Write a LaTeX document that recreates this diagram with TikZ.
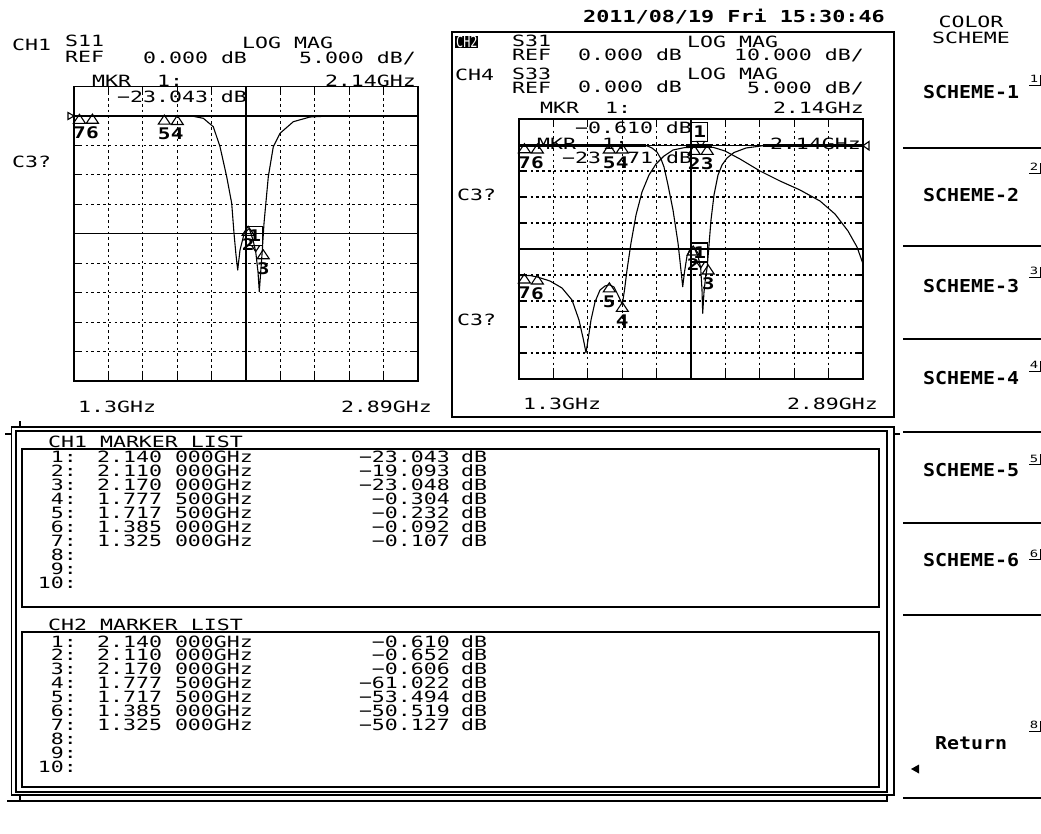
\documentclass[tikz,border=0pt]{standalone}
\usepackage{fontspec}
\usepackage{graphicx}
\newfontfamily\scrfamily[FakeStretch=1.39]{DejaVu Sans Mono}
\newfontfamily\scrbfamily[FakeStretch=1.32]{DejaVu Sans Mono Bold}
\newfontfamily\keyfamily[FakeStretch=1.12]{DejaVu Sans Mono Bold}
\newcommand{\scr}{\scrfamily\fontsize{15.5}{15.5}\selectfont}
\newcommand{\scrb}{\scrbfamily\fontsize{16.5}{16.5}\selectfont}
\newcommand{\keyf}{\keyfamily\fontsize{17.8}{17.8}\selectfont}
\newcommand{\supf}{\scrfamily\fontsize{10}{10}\selectfont}
\newcommand{\mkf}{\scrbfamily\fontsize{16}{16}\selectfont}

\tikzset{
	txt/.style={font=\scr, inner sep=0pt, anchor=base west},
	txtr/.style={font=\scr, inner sep=0pt, anchor=base east},
	txtc/.style={font=\scr, inner sep=0pt, anchor=base},
	keylbl/.style={font=\keyf, inner sep=0pt, anchor=base},
	border/.style={line width=1.5pt},
	gridln/.style={line width=1.1pt, dash pattern=on 2.6pt off 3.2pt},
	trc/.style={line width=1.1pt, line join=round},
	thk/.style={line width=2.6pt},
	mkline/.style={line width=1.1pt},
	mknum/.style={font=\mkf, inner sep=0pt, anchor=north},
	mkbox/.style={draw, line width=1.2pt, font=\mkf, minimum width=16pt, minimum height=19pt, inner sep=0pt},
}

% small marker: name, x, y, label
\newcommand{\smkr}[4]{
	\draw[mkline] (#2,#3-2) -- (#2-6,#3+7) -- (#2+6,#3+7) -- cycle;
	\node[mknum] (#1) at (#2,#3+10.5) {#4};
}
% active marker: name, x, y, label
\newcommand{\amkr}[4]{
	\draw[mkline] (#2,#3) -- (#2-4,#3-6) -- (#2+4,#3-6) -- cycle;
	\node[mkbox] (#1) at (#2-1,#3-15.5) {#4};
}

\begin{document}
\begin{tikzpicture}[x=1pt,y=-1pt]
	\useasboundingbox (0,0) rectangle (1041,833);
	
	\node[txt, font=\scrb] (date) at (583,22) {2011/08/19 Fri 15:30:46};
	
	% CH1 header
	\node[txt] (hch1) at (12,50) {CH1};
	\node[txt] (hs11) at (65,46) {S11};
	\node[txt] (href1) at (65,62) {REF};
	\node[txt] (hlog1) at (242,48) {LOG MAG};
	\node[txt] (hr1) at (143,63) {0.000 dB};
	\node[txtr] (hsc1) at (416,63) {5.000 dB/};
	\node[txt] (hmkr1) at (92,86) {MKR};
	\node[txt] (hmkn1) at (157,86) {1:};
	\node[txtr] (hmkf1) at (416,86) {2.14GHz};
	\node[txt] (hc31) at (12,167) {C3?};
	\node[txt] (hst1) at (78,412) {1.3GHz};
	\node[txtr] (hsp1) at (432,412) {2.89GHz};
	
	% CH1 grid
	\foreach \i in {1,...,9} {
		\draw[gridln] ({74+34.4*\i},86.5) -- ({74+34.4*\i},381);
		\draw[gridln] (74,{86.5+29.45*\i}) -- (418,{86.5+29.45*\i});
		\draw[trc] ({74+34.4*\i},86.5) -- ++(0,8) ({74+34.4*\i},381) -- ++(0,-8);
		\draw[trc] (74,{86.5+29.45*\i}) -- ++(8,0) (418,{86.5+29.45*\i}) -- ++(-8,0);
	}
	\draw[trc] (246,86.5) -- (246,381);
	\draw[trc] (74,233.75) -- (418,233.75);
	\draw[trc] (74,116) -- (418,116);
	\draw[border] (74,86.5) rectangle (418,381);
	\node[txt] (hmkv1) at (117,102) {−23.043 dB};
	
	\draw[trc] plot coordinates {(74,116) (191.7,116) (203.3,118.3) (213.3,126.7) (220,146.7) (226.7,176.7) (231.7,203.3) (234,233.3) (236,255) (237.7,270) (240,250) (244,234) (249.2,228.3) (253,240) (255.7,251.6) (258,272) (259.3,291.7) (260.7,272) (262.2,251.7) (264,223.3) (268.3,176.7) (273.3,146.7) (280,133.3) (293.3,121.7) (310,117) (330,116) (418,116)};
	\draw[thk] (125,116) -- (192,116) (310,116) -- (418,116);
	\draw[mkline] (68,112.5) -- (74,116) -- (68,119.5) -- cycle;
	
	\smkr{a7}{79.4}{116.3}{7}
	\smkr{a6}{92.4}{116.2}{6}
	\smkr{a5}{164.3}{117.1}{5}
	\smkr{a4}{177.3}{117.5}{4}
	\smkr{a2}{248.2}{228.3}{2}
	\smkr{a3}{263.2}{251.7}{3}
	\amkr{a1}{255.7}{251.6}{1}
	
	% CH2 / CH4 panel
	\draw[border] (452,32) rectangle (894,417);
	\fill (455,36) rectangle (478,48);
	\node[txt, text=white] (hch2) at (456,47) {\scalebox{0.55}[1]{CH2}};
	\node[txt] (hs31) at (512,46) {S31};
	\node[txt] (href2) at (512,60) {REF};
	\node[txt] (hlog2) at (687,47) {LOG MAG};
	\node[txt] (hr2) at (578,60) {0.000 dB};
	\node[txtr] (hsc2) at (864,60.5) {10.000 dB/};
	\node[txt] (hch4) at (455,80) {CH4};
	\node[txt] (hs33) at (512,79) {S33};
	\node[txt] (href4) at (512,93) {REF};
	\node[txt] (hlog4) at (687,79.5) {LOG MAG};
	\node[txt] (hr4) at (578,92.5) {0.000 dB};
	\node[txtr] (hsc4) at (864,93) {5.000 dB/};
	\node[txt] (hmkr2) at (540,113) {MKR};
	\node[txt] (hmkn2) at (605,113) {1:};
	\node[txtr] (hmkf2) at (864,113) {2.14GHz};
	\node[txt] (hc32) at (457,200) {C3?};
	\node[txt] (hc34) at (457,325) {C3?};
	\node[txt] (hst2) at (523,409) {1.3GHz};
	\node[txtr] (hsp2) at (878,409) {2.89GHz};
	
	\foreach \i in {1,...,9} {
		\draw[gridln] ({519+34.4*\i},119) -- ({519+34.4*\i},379);
		\draw[gridln] (519,{119+26*\i}) -- (863,{119+26*\i});
		\draw[trc] ({519+34.4*\i},119) -- ++(0,8) ({519+34.4*\i},379) -- ++(0,-8);
		\draw[trc] (519,{119+26*\i}) -- ++(8,0) (863,{119+26*\i}) -- ++(-8,0);
	}
	\draw[trc] (691,119) -- (691,379);
	\draw[trc] (519,249) -- (863,249);
	\draw[trc] (519,145.7) -- (863,145.7);
	\draw[border] (519,119) rectangle (863,379);
	\node[txt] (hmkv2) at (575,133) {−0.610 dB};
	\node[txt] (hmkr4) at (537,149) {MKR};
	\node[txt] (hmkn4) at (602,149) {1:};
	\node[txtr] (hmkf4) at (861,149) {2.14GHz};
	\node[txt] (hmkv4a) at (562,163) {−23};
	\node[txt] (hmkv4b) at (627,163) {71};
	\node[txt] (hmkv4c) at (666,163) {dB};
	
	% S31
	\draw[trc] plot coordinates {(519,275.7) (530,275.5) (537.4,277) (550,281) (562,288) (572,300) (579,320) (583.5,340) (586,352.7) (588,340) (591,320) (595,302) (600,290) (605,286) (609.3,284.8) (614,287) (618,295) (622.3,304.4) (624.5,290) (627,270) (631,243) (636,215) (642,192) (649,175) (656,164) (664,156) (673,150) (685,147.5) (700,147.3) (713,147.3) (725,151) (740,159) (760,171) (780,181) (800,190) (820,201) (835,214) (848,231) (857,247) (862.7,263)};
	% S33
	\draw[trc] plot coordinates {(519,145.7) (646.7,145.7) (652,148) (657,152) (661,159) (664,167) (668,185) (673,210) (678,243) (681.5,275) (682.7,286.7) (684.5,272) (687,256) (690,249) (694.2,248) (698,256) (700.7,268) (702,290) (702.7,313.3) (704,292) (705.5,278) (707.2,267) (709,245) (711,220) (714,195) (718,175) (722,165) (727,158) (734,152.5) (746,148) (763,145.7) (862.7,145.7)};
	\draw[thk] (519,145.7) -- (646,145.7) (686,145.7) -- (712,145.7) (763,145.7) -- (863,145.7);
	\draw[mkline] (869,141.5) -- (863,145.7) -- (869,150) -- cycle;
	
	\smkr{b7}{524.4}{145.7}{7}
	\smkr{b6}{537.4}{146}{6}
	\smkr{b5}{609.3}{146}{5}
	\smkr{b4}{622.3}{146}{4}
	\smkr{b2}{693.2}{248}{2}
	\smkr{b3}{708.2}{267}{3}
	\amkr{b1}{700.7}{268}{1}
	\smkr{c7}{524.4}{276}{7}
	\smkr{c6}{537.4}{277}{6}
	\smkr{c5}{609.3}{284.8}{5}
	\smkr{c4}{622.3}{304.4}{4}
	\smkr{c2}{694.2}{147.4}{2}
	\smkr{c3}{707.2}{147.3}{3}
	\amkr{c1}{700.7}{147.3}{1}
	
	% marker lists
	\draw[border] (11.5,427) -- (894,427) -- (894,795) -- (11.5,795) -- cycle;
	\draw[border] (16,431) -- (887,431) -- (887,792) -- (16,792) -- cycle;
	\draw[border] (20,421) -- (20,427);
	\draw[border] (5,434) -- (11.5,434);
	\draw[border] (894,434) -- (900,434);
	\draw[border] (7,801) -- (887,801) -- (887,795);
	\draw[border] (20,801) -- (20,796);
	\draw[border] (22,449) rectangle (879,607);
	\draw[border] (22,632) rectangle (879,787);
	\node[txt] (l1) at (48,447) {CH1 MARKER LIST};
	\node[txt] (l2) at (48,630) {CH2 MARKER LIST};
	
	\foreach \f/\v [count=\k] in {2.140 000GHz/−23.043, 2.110 000GHz/−19.093, 2.170 000GHz/−23.048, 1.777 500GHz/−0.304, 1.717 500GHz/−0.232, 1.385 000GHz/−0.092, 1.325 000GHz/−0.107} {
		\node[txtr] (pn\k) at (77,{462+14*(\k-1)}) {\k:};
		\node[txt] (pf\k) at (97,{462+14*(\k-1)}) {\f};
		\node[txtr] (pv\k) at (450,{462+14*(\k-1)}) {\v};
		\node[txt] (pd\k) at (461,{462+14*(\k-1)}) {dB};
	}
	\foreach \k in {8,9,10}
		\node[txtr] (pn\k) at (77,{462+14*(\k-1)}) {\k:};
	
	\foreach \f/\v [count=\k] in {2.140 000GHz/−0.610, 2.110 000GHz/−0.652, 2.170 000GHz/−0.606, 1.777 500GHz/−61.022, 1.717 500GHz/−53.494, 1.385 000GHz/−50.519, 1.325 000GHz/−50.127} {
		\node[txtr] (qn\k) at (77,{647+13.9*(\k-1)}) {\k:};
		\node[txt] (qf\k) at (97,{647+13.9*(\k-1)}) {\f};
		\node[txtr] (qv\k) at (450,{647+13.9*(\k-1)}) {\v};
		\node[txt] (qd\k) at (461,{647+13.9*(\k-1)}) {dB};
	}
	\foreach \k in {8,9,10}
		\node[txtr] (qn\k) at (77,{647+13.9*(\k-1)}) {\k:};
	
	% softkeys
	\node[txtc] (kcol) at (971,27) {COLOR};
	\node[txtc] (ksch) at (971,43) {SCHEME};
	\foreach \y in {148,246,339,432,523,615,798}
		\draw[border] (903,\y) -- (1041,\y);
	\foreach \k/\lab/\cy/\sy in {1/SCHEME-1/91.5/79, 2/SCHEME-2/194/167, 3/SCHEME-3/285/271, 4/SCHEME-4/377.5/365, 5/SCHEME-5/469.5/458.5, 6/SCHEME-6/559.5/553.5, 8/Return/742.5/725} {
		\node[keylbl] (key\k) at (971,\cy+7) {\lab};
		\node[font=\supf, inner sep=0pt] (keyn\k) at (1034,\sy) {\k};
		\draw[line width=1pt] (1029,\sy+6) -- (1040,\sy+6) -- (1040,\sy-4.5);
	}
	\fill (911,769) -- (919,764.5) -- (919,773.5) -- cycle;
	
\end{tikzpicture}
\end{document}
